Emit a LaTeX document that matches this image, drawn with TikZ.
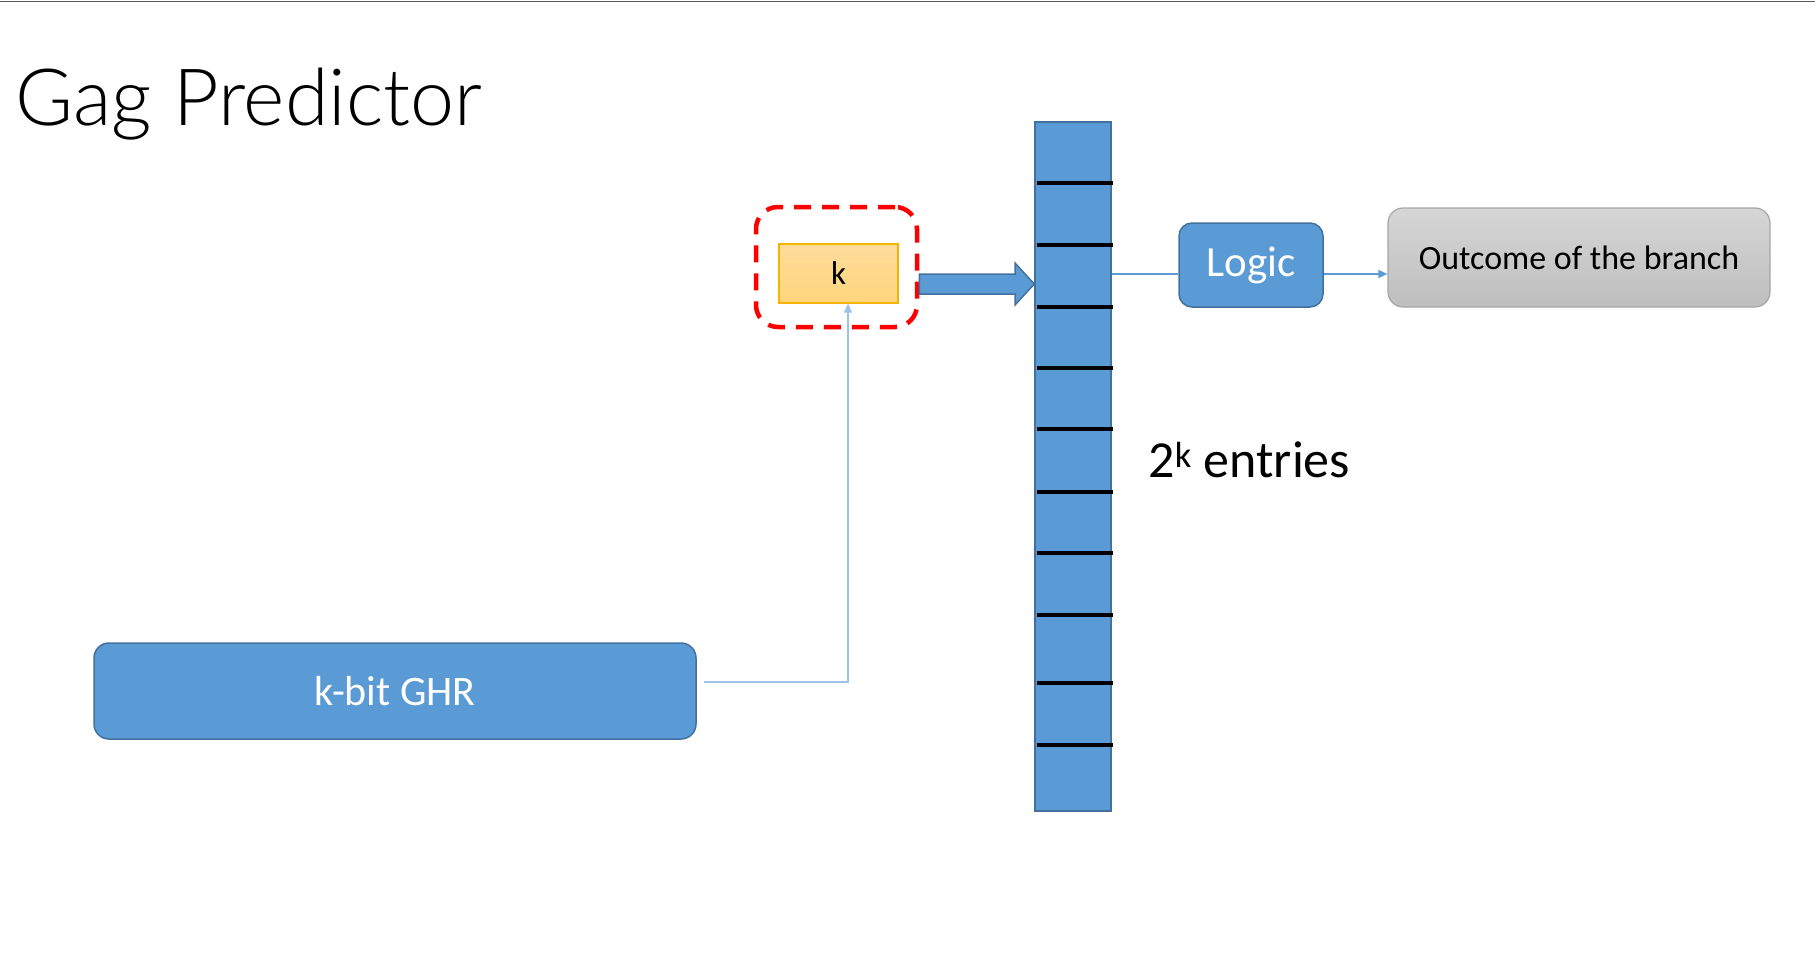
\documentclass[tikz,border=0pt]{standalone}
\usepackage{fontspec}
\setmainfont{Carlito}
\newfontfamily\titlefont{Lato Light}
\usepackage{xcolor}
\usepackage{tikz}
\usetikzlibrary{arrows.meta}

\definecolor{cellblue}{HTML}{5B9BD5}
\definecolor{edgeblue}{HTML}{41719C}
\definecolor{wireblue}{HTML}{5B9BD5}
\definecolor{lightwire}{HTML}{9DC3E6}

\begin{document}
\begin{tikzpicture}[x=1pt,y=-1pt,
  bluebox/.style={draw=edgeblue,line width=1.5pt,fill=cellblue,text=white,inner sep=0pt},
  wire/.style={draw=wireblue,line width=1.3pt,-{Triangle[length=9pt,width=8pt]}}]
\useasboundingbox (0,0) rectangle (1815,963);
\draw[gray!70!black,line width=1.5pt] (0,1.5) -- (1815,1.5);
\node[anchor=base west,font=\titlefont\fontsize{79}{96}\selectfont] (title) at (12,126) {Gag Predictor};
\node[bluebox,minimum width=76,minimum height=689] (table) at (1073,466.5) {};
\foreach \y in {183,245,307,368,429,492,553,615,683,745}
  \draw[line width=3.2pt] (1037,\y) -- (1113,\y);
\node[anchor=base west,font=\fontsize{52}{60}\selectfont] (entries) at (1145,477) {2\textsuperscript{k} entries};
\node[draw=red,line width=4.5pt,dash pattern=on 17pt off 11pt,rounded corners=22pt,minimum width=161,minimum height=120] (window) at (836.5,267) {};
\node[draw={rgb,255:red,245;green,180;blue,0},line width=1.2pt,top color={rgb,255:red,253;green,220;blue,155},bottom color={rgb,255:red,255;green,213;blue,124},minimum width=119,minimum height=59,inner sep=0pt,font=\fontsize{33}{38}\selectfont] (k) at (838.5,273.5) {k};
\draw[draw=edgeblue,line width=1.5pt,fill=cellblue] (window.east |- 0,274) -- (1015,274) -- (1015,263) -- (table.west |- 0,284) -- (1015,305) -- (1015,294) -- (window.east |- 0,294) -- cycle;
\node[bluebox,rounded corners=13pt,minimum width=144,minimum height=84,font=\fontsize{43}{50}\selectfont] (logic) at (1251,265) {Logic};
\node[draw={rgb,255:red,166;green,166;blue,166},line width=1.2pt,rounded corners=15pt,top color={rgb,255:red,214;green,214;blue,214},bottom color={rgb,255:red,190;green,190;blue,190},minimum width=382,minimum height=99,inner sep=0pt,font=\fontsize{34}{40}\selectfont] (outcome) at (1579,257.5) {Outcome of the branch};
\node[bluebox,rounded corners=15pt,minimum width=602,minimum height=96,font=\fontsize{42}{48}\selectfont] (ghr) at (395,691) {k-bit GHR};
\coordinate (row) at (0,274);
\coordinate (bend) at (848,682);
\draw[wireblue,line width=1.3pt] (table.east |- row) -- (logic.west |- row);
\draw[wire] (logic.east |- row) -- (outcome.west |- row);
\draw[wire,draw=lightwire] ([xshift=7pt]ghr.east |- bend) -- (bend) -- (bend |- k.south);
\end{tikzpicture}
\end{document}
